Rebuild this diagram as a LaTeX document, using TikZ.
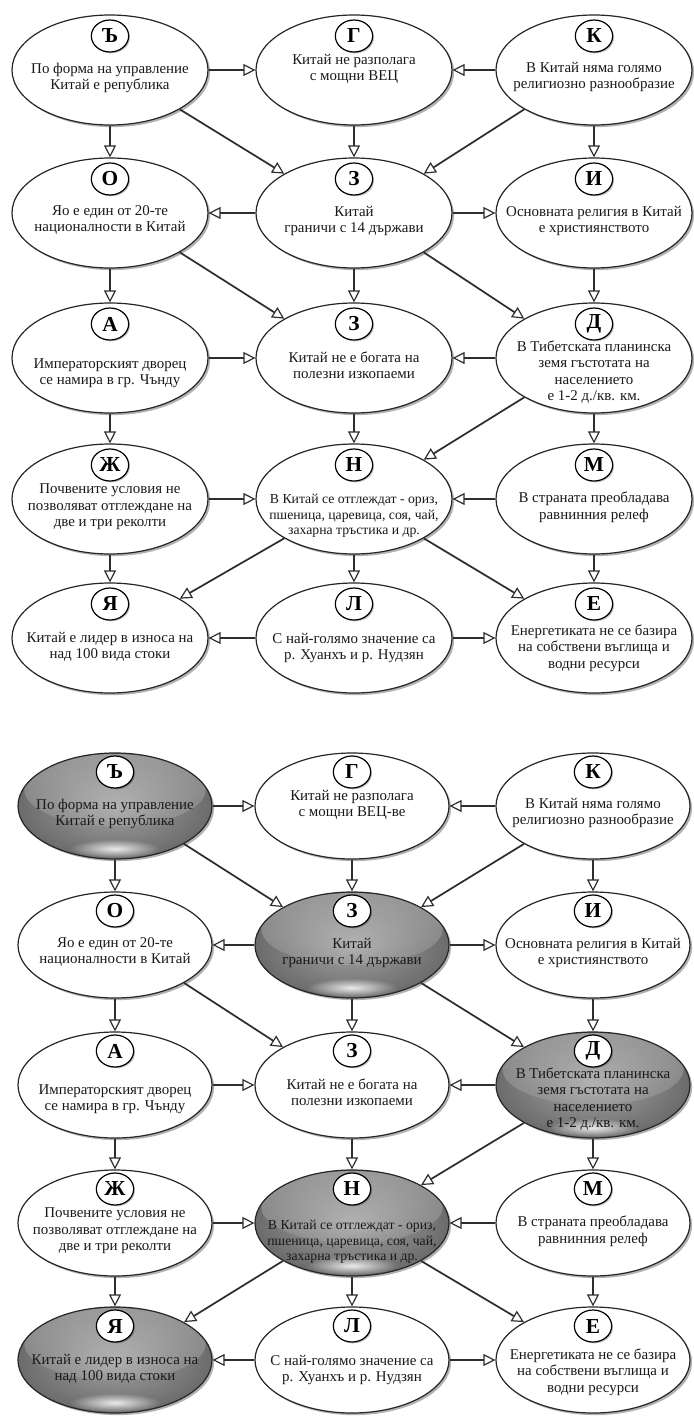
\documentclass[tikz,border=0pt]{standalone}
\usepackage{fontspec}
\setmainfont{Liberation Serif}
\usetikzlibrary{shapes.geometric,arrows.meta,shadows,fadings}

\tikzfading[name=softblob, inner color=transparent!0, outer color=transparent!100]

\tikzset{
  ellw/.style={ellipse, draw=black!85, line width=0.9pt, fill=white,
    minimum width=147pt, minimum height=82.5pt, inner sep=0pt,
    drop shadow={shadow xshift=1.6pt, shadow yshift=-1.6pt, opacity=0.3, fill=black}},
  ellg/.style={ellw, inner color=black!36, outer color=black!58,
    path picture={
      \fill[white, path fading=south, fill opacity=0.32]
        ([yshift=12pt]path picture bounding box.center) ellipse [x radius=68pt, y radius=27pt];
      \fill[white, path fading=softblob, fill opacity=0.85]
        ([yshift=-32pt]path picture bounding box.center) ellipse [x radius=34pt, y radius=7pt];
    }},
  lowb/.style={minimum height=79.5pt, minimum width=145.5pt},
  bubtext/.style={align=center, inner sep=0pt, text=black!90,
    font=\fontsize{11.2pt}{12.4pt}\selectfont},
  smalltext/.style={font=\fontsize{10.3pt}{11.6pt}\selectfont},
  letter/.style={ellipse, draw=black, line width=0.9pt, fill=white,
    minimum width=28pt, minimum height=24pt, inner sep=0pt,
    font=\bfseries\fontsize{16pt}{16pt}\selectfont,
    drop shadow={shadow xshift=1pt, shadow yshift=-1pt, opacity=0.25, fill=black}},
  conn/.style={draw=black!82, line width=1.3pt,
    -{Triangle[open, length=9pt, width=9pt, line width=0.9pt]}},
}

% name, style, x, y, letter, text dy, text style, text
\newcommand{\bub}[8]{%
  \node[#2] (#1) at (#3,#4) {};
  \node[bubtext,#7] (#1t) at (#3,{#4+(#6)}) {#8};
  \node[letter] (#1l) at (#3,#4-34) {#5};
}

\newcommand{\alledges}[1]{%
  \draw[conn] (#1a1.east) -- (#1b1.west);
  \draw[conn] (#1c1.west) -- (#1b1.east);
  \draw[conn] (#1a1.south) -- (#1a2.north);
  \draw[conn] (#1a1.south east) -- (#1b2.north west);
  \draw[conn] (#1b1.south) -- (#1b2.north);
  \draw[conn] (#1c1.south west) -- (#1b2.north east);
  \draw[conn] (#1c1.south) -- (#1c2.north);
  \draw[conn] (#1b2.west) -- (#1a2.east);
  \draw[conn] (#1b2.east) -- (#1c2.west);
  \draw[conn] (#1a2.south) -- (#1a3.north);
  \draw[conn] (#1a2.south east) -- (#1b3.north west);
  \draw[conn] (#1b2.south) -- (#1b3.north);
  \draw[conn] (#1b2.south east) -- (#1c3.north west);
  \draw[conn] (#1c2.south) -- (#1c3.north);
  \draw[conn] (#1a3.east) -- (#1b3.west);
  \draw[conn] (#1c3.west) -- (#1b3.east);
  \draw[conn] (#1a3.south) -- (#1a4.north);
  \draw[conn] (#1b3.south) -- (#1b4.north);
  \draw[conn] (#1c3.south west) -- (#1b4.north east);
  \draw[conn] (#1c3.south) -- (#1c4.north);
  \draw[conn] (#1a4.east) -- (#1b4.west);
  \draw[conn] (#1c4.west) -- (#1b4.east);
  \draw[conn] (#1a4.south) -- (#1a5.north);
  \draw[conn] (#1b4.south west) -- (#1a5.north east);
  \draw[conn] (#1b4.south) -- (#1b5.north);
  \draw[conn] (#1b4.south east) -- (#1c5.north west);
  \draw[conn] (#1c4.south) -- (#1c5.north);
  \draw[conn] (#1b5.west) -- (#1a5.east);
  \draw[conn] (#1b5.east) -- (#1c5.west);
}

\begin{document}
\begin{tikzpicture}[x=0.75pt,y=-0.75pt]
\fill[white] (0,0) rectangle (693,1417);
\path[use as bounding box] (0,0) rectangle (693,1417);

% ---------- top diagram ----------
\bub{a1}{ellw}{110}{70}{Ъ}{8}{}{По форма на управление\\Китай е република}
\bub{b1}{ellw}{354}{70}{Г}{-1}{}{Китай не разполага\\с мощни ВЕЦ}
\bub{c1}{ellw}{594}{70}{К}{7}{}{В Китай няма голямо\\религиозно разнообразие}
\bub{a2}{ellw}{110}{213}{О}{7}{}{Яо е един от 20-те\\националности в Китай}
\bub{b2}{ellw}{354}{213}{З}{8}{}{Китай\\граничи с 14 държави}
\bub{c2}{ellw}{594}{213}{И}{8}{}{Основната религия в Китай\\е християнството}
\bub{a3}{ellw}{110}{358}{А}{15}{}{Императорският дворец\\се намира в гр. Чънду}
\bub{b3}{ellw}{354}{358}{З}{7}{}{Китай не е богата на\\полезни изкопаеми}
\bub{c3}{ellw}{594}{358}{Д}{14}{}{В Тибетската планинска\\земя гъстотата на\\населението\\е 1-2 д./кв. км.}
\bub{a4}{ellw}{110}{499}{Ж}{8}{}{Почвените условия не\\позволяват отглеждане на\\две и три реколти}
\bub{b4}{ellw}{354}{499}{Н}{17}{smalltext}{В Китай се отглеждат - ориз,\\пшеница, царевица, соя, чай,\\захарна тръстика и др.}
\bub{c4}{ellw}{594}{499}{М}{8}{}{В страната преобладава\\равнинния релеф}
\bub{a5}{ellw}{110}{638}{Я}{9}{}{Китай е лидер в износа на\\над 100 вида стоки}
\bub{b5}{ellw}{354}{638}{Л}{10}{}{С най-голямо значение са\\р. Хуанхъ и р. Нудзян}
\bub{c5}{ellw}{594}{638}{Е}{10}{}{Енергетиката не се базира\\на собствени въглища и\\водни ресурси}

% ---------- bottom diagram ----------
\bub{Ba1}{ellg,lowb}{115}{806}{Ъ}{8}{}{По форма на управление\\Китай е република}
\bub{Bb1}{ellw,lowb}{352}{806}{Г}{-1}{}{Китай не разполага\\с мощни ВЕЦ-ве}
\bub{Bc1}{ellw,lowb}{593}{806}{К}{7}{}{В Китай няма голямо\\религиозно разнообразие}
\bub{Ba2}{ellw,lowb}{115}{945}{О}{7}{}{Яо е един от 20-те\\националности в Китай}
\bub{Bb2}{ellg,lowb}{352}{945}{З}{8}{}{Китай\\граничи с 14 държави}
\bub{Bc2}{ellw,lowb}{593}{945}{И}{8}{}{Основната религия в Китай\\е християнството}
\bub{Ba3}{ellw,lowb}{115}{1085}{А}{14}{}{Императорският дворец\\се намира в гр. Чънду}
\bub{Bb3}{ellw,lowb}{352}{1085}{З}{7}{}{Китай не е богата на\\полезни изкопаеми}
\bub{Bc3}{ellg,lowb}{593}{1085}{Д}{14}{}{В Тибетската планинска\\земя гъстотата на\\населението\\е 1-2 д./кв. км.}
\bub{Ba4}{ellw,lowb}{115}{1223}{Ж}{8}{}{Почвените условия не\\позволяват отглеждане на\\две и три реколти}
\bub{Bb4}{ellg,lowb}{352}{1223}{Н}{19}{smalltext}{В Китай се отглеждат - ориз,\\пшеница, царевица, соя, чай,\\захарна тръстика и др.}
\bub{Bc4}{ellw,lowb}{593}{1223}{М}{8}{}{В страната преобладава\\равнинния релеф}
\bub{Ba5}{ellg,lowb}{115}{1360}{Я}{9}{}{Китай е лидер в износа на\\над 100 вида стоки}
\bub{Bb5}{ellw,lowb}{352}{1360}{Л}{10}{}{С най-голямо значение са\\р. Хуанхъ и р. Нудзян}
\bub{Bc5}{ellw,lowb}{593}{1360}{Е}{12}{}{Енергетиката не се базира\\на собствени въглища и\\водни ресурси}

\alledges{}
\alledges{B}
\end{tikzpicture}
\end{document}
